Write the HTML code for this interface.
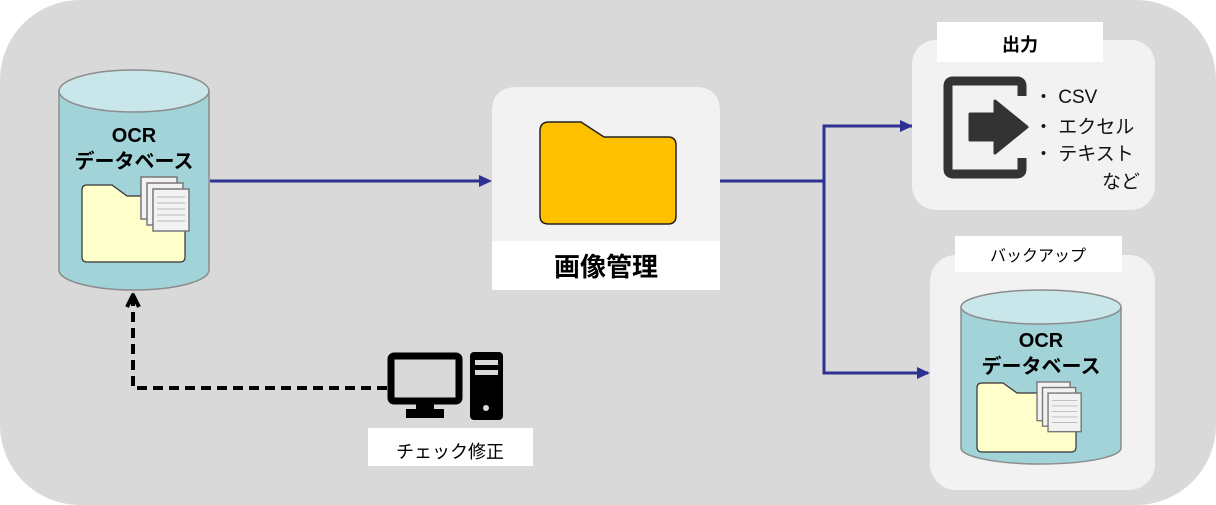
<!DOCTYPE html>
<html><head><meta charset="utf-8"><style>
body{margin:0;background:#fff}
svg{display:block}
text{font-family:"Liberation Sans","Noto Sans CJK JP",sans-serif}
</style></head><body>
<svg width="1216" height="505" viewBox="0 0 1216 505" xmlns="http://www.w3.org/2000/svg">
<defs>
<g id="papers">
  <rect x="0" y="0" width="36" height="42" fill="#f2f2f2" stroke="#777" stroke-width="1.5"/>
  <rect x="6" y="6" width="36" height="42" fill="#f2f2f2" stroke="#777" stroke-width="1.5"/>
  <rect x="12" y="12" width="36" height="42" fill="#f2f2f2" stroke="#777" stroke-width="1.5"/>
  <g stroke="#bbb" stroke-width="1"><line x1="16" y1="20" x2="44" y2="20"/><line x1="16" y1="26" x2="44" y2="26"/><line x1="16" y1="32" x2="44" y2="32"/><line x1="16" y1="38" x2="44" y2="38"/><line x1="16" y1="44" x2="44" y2="44"/></g>
</g>
</defs>
<rect x="0" y="0" width="1216" height="505" rx="80" fill="#d9d9d9"/>

<path d="M59 91 V270 A75 20 0 0 0 209 270 V91" fill="#a1d3d9" stroke="#8c8c8c" stroke-width="1.5"/>
<ellipse cx="134" cy="91" rx="75" ry="21" fill="#c9e7ea" stroke="#8c8c8c" stroke-width="1.5"/>
<text x="134" y="142" font-size="20" font-weight="bold" text-anchor="middle">OCR</text>
<text x="134" y="168" font-size="20" font-weight="bold" text-anchor="middle">データベース</text>
<path d="M82 190 Q82 185 87 185 H112 L127 196 H180 Q185 196 185 201 V257 Q185 262 180 262 H87 Q82 262 82 257 Z" fill="#ffffcc" stroke="#333" stroke-width="1.2"/>
<use href="#papers" x="141" y="177"/>

<line x1="210" y1="181" x2="482" y2="181" stroke="#2e3192" stroke-width="3"/>
<polygon points="492,181 479,175 479,187" fill="#2e3192"/>

<path d="M492 112 Q492 87 517 87 H695 Q720 87 720 112 V290 H492 Z" fill="#f2f2f2"/>
<rect x="492" y="241" width="228" height="49" fill="#fff"/>
<path d="M540 131 Q540 122 549 122 H581 L604 137 H668 Q676 137 676 145 V216 Q676 224 668 224 H549 Q540 224 540 216 Z" fill="#ffc000" stroke="#222" stroke-width="1.5"/>
<text x="606" y="276" font-size="26" font-weight="bold" text-anchor="middle">画像管理</text>

<polyline points="720,181 824,181" fill="none" stroke="#2e3192" stroke-width="3"/>
<polyline points="912,126 824,126 824,373 928,373" fill="none" stroke="#2e3192" stroke-width="3"/>
<polygon points="913,126 900,120 900,132" fill="#2e3192"/>
<polygon points="930,373 917,367 917,379" fill="#2e3192"/>

<rect x="912" y="40" width="243" height="170" rx="24" fill="#f2f2f2"/>
<rect x="937" y="22" width="166" height="40" fill="#fff"/>
<text x="1020" y="51" font-size="18" font-weight="bold" text-anchor="middle">出力</text>
<path d="M1022 96 V86 Q1022 81 1017 81 H953 Q948 81 948 86 V169 Q948 174 953 174 H1017 Q1022 174 1022 169 V158" fill="none" stroke="#333" stroke-width="9"/>
<path d="M970 114 H995 V101 L1027 127 L995 153 V140 H970 Z" fill="#333" stroke="#333" stroke-width="3" stroke-linejoin="round"/>
<g font-size="19" fill="#111">
<text x="1034" y="103">・ CSV</text>
<text x="1034" y="133">・ エクセル</text>
<text x="1034" y="160">・ テキスト</text>
<text x="1102" y="188">など</text>
</g>

<rect x="930" y="255" width="225" height="235" rx="26" fill="#f2f2f2"/>
<rect x="955" y="236" width="167" height="36" fill="#fff"/>
<text x="1038" y="261" font-size="16" text-anchor="middle" font-family="'Noto Serif CJK SC','Noto Serif CJK JP',serif">バックアップ</text>
<path d="M961 307 V448 A80 16 0 0 0 1121 448 V307" fill="#a1d3d9" stroke="#8c8c8c" stroke-width="1.5"/>
<ellipse cx="1041" cy="307" rx="80" ry="17" fill="#c9e7ea" stroke="#8c8c8c" stroke-width="1.5"/>
<text x="1041" y="347" font-size="20" font-weight="bold" text-anchor="middle">OCR</text>
<text x="1041" y="373" font-size="20" font-weight="bold" text-anchor="middle">データベース</text>
<path d="M977 388 Q977 383 982 383 H1003 L1017 393 H1071 Q1076 393 1076 398 V447 Q1076 452 1071 452 H982 Q977 452 977 447 Z" fill="#ffffcc" stroke="#333" stroke-width="1.2"/>
<use href="#papers" x="1037" y="382" transform="translate(1037 382) scale(0.92) translate(-1037 -382)"/>

<polyline points="387,388 133,388 133,296" fill="none" stroke="#000" stroke-width="4" stroke-dasharray="10,6"/>
<polyline points="127,307 133,295 139,307" fill="none" stroke="#000" stroke-width="4" stroke-linejoin="round"/>

<rect x="391" y="356" width="68" height="45" rx="3" fill="#d9d9d9" stroke="#000" stroke-width="7"/>
<rect x="416" y="403" width="18" height="8" fill="#000"/>
<rect x="406" y="409" width="38" height="9" fill="#000"/>
<rect x="470" y="352" width="33" height="68" rx="4" fill="#000"/>
<rect x="475" y="360" width="23" height="5" fill="#d9d9d9"/>
<rect x="475" y="370" width="23" height="5" fill="#d9d9d9"/>
<circle cx="486" cy="408" r="3" fill="#d9d9d9"/>
<rect x="368" y="428" width="165" height="38" fill="#fff"/>
<text x="450" y="458" font-size="18" text-anchor="middle" font-family="'Noto Serif CJK SC','Noto Serif CJK JP',serif">チェック修正</text>
</svg>
</body></html>
